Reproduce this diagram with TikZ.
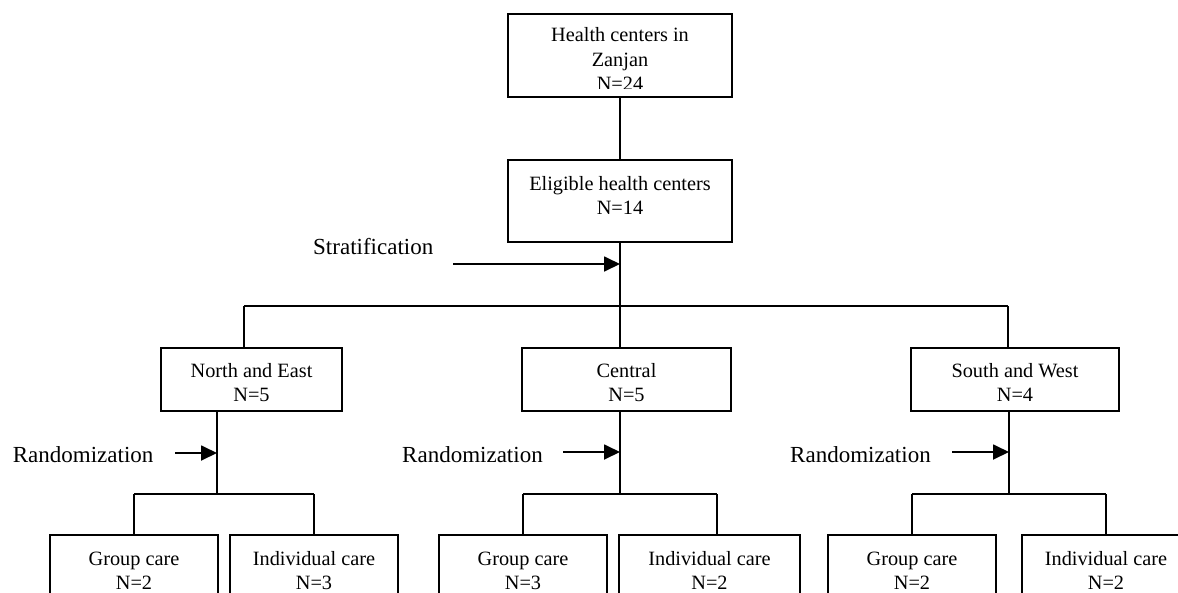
\documentclass[tikz,border=0pt]{standalone}
\usepackage{fontspec}
\setmainfont{Liberation Serif}
\usetikzlibrary{arrows.meta}
\tikzset{
  x=1pt, y=-1pt,
  lw/.style={line width=1.8pt},
  box/.style={draw, lw, inner sep=0pt, align=center, font=\fontsize{20.3}{24}\selectfont},
  boxtext/.style={inner sep=0pt, align=center, font=\fontsize{20.3}{24.5}\selectfont},
  lbl/.style={inner sep=0pt, anchor=base west, font=\fontsize{23}{27}\selectfont},
  conn/.style={lw},
  arr/.style={lw, -{Triangle[length=16pt,width=15pt]}},
  midbox/.style={box, minimum height=63pt, text height=45pt, text depth=2pt},
  botbox/.style={box, minimum height=74pt, text height=40pt, text depth=6pt}
}
\begin{document}
\begin{tikzpicture}
\useasboundingbox (0,0) rectangle (1178,592);

% top box (text overflows and is cut)
\node[box, minimum width=224pt, minimum height=83pt] (hc) at (620,55.5) {};
\begin{scope}
  \clip (510,16) rectangle (729,88.5);
  \node[boxtext, text height=75pt, text depth=4pt] (hct) at ([yshift=0.5pt]hc.center) {Health centers in\\Zanjan\\N=24};
\end{scope}

\node[box, minimum width=224pt, minimum height=82pt, text height=40pt, text depth=14pt] (el) at (620,201) {Eligible health centers\\N=14};

\node[midbox, minimum width=181pt] (ne) at (251.5,379.5) {North and East\\N=5};
\node[midbox, minimum width=209pt] (ce) at (626.5,379.5) {Central\\N=5};
\node[midbox, minimum width=208pt] (sw) at (1015,379.5) {South and West\\N=4};

\node[botbox, minimum width=168pt] (g1) at (134,572) {Group care\\N=2};
\node[botbox, minimum width=168pt] (i1) at (314,572) {Individual care\\N=3};
\node[botbox, minimum width=168pt] (g2) at (523,572) {Group care\\N=3};
\node[botbox, minimum width=181pt] (i2) at (709.5,572) {Individual care\\N=2};
\node[botbox, minimum width=168pt] (g3) at (912,572) {Group care\\N=2};
\node[botbox, minimum width=168pt] (i3) at (1106,572) {Individual care\\N=2};

% labels
\node[lbl] (strat) at (313,254) {Stratification};
\node[lbl] (rand1) at (12.7,462) {Randomization};
\node[lbl] (rand2) at (402,462) {Randomization};
\node[lbl] (rand3) at (790,462) {Randomization};

% trunk and stratification
\coordinate (sl) at (244,306);
\coordinate (sr) at (1008,306);
\draw[conn] (hc.south) -- (el.north);
\draw[conn] (el.south) -- (el.south |- ce.north);
\draw[conn] (sl) -- (sr);
\draw[conn] (sl) -- (sl |- ne.north);
\draw[conn] (sr) -- (sr |- sw.north);
\coordinate (sa) at (453,264);
\draw[arr] (sa) -- (sa -| el.south);

% randomization left
\coordinate (r1) at (217,494);
\coordinate (r1l) at (134,494);
\coordinate (r1r) at (314,494);
\draw[conn] (ne.south -| r1) -- (r1);
\draw[conn] (r1l) -- (r1r);
\draw[conn] (r1l) -- (g1.north);
\draw[conn] (r1r) -- (i1.north);
\coordinate (ra1) at (175,453);
\draw[arr] (ra1) -- (ra1 -| r1);

% randomization centre
\coordinate (r2) at (620,494);
\coordinate (r2l) at (523,494);
\coordinate (r2r) at (717,494);
\draw[conn] (ce.south -| r2) -- (r2);
\draw[conn] (r2l) -- (r2r);
\draw[conn] (r2l) -- (g2.north);
\draw[conn] (r2r) -- (r2r |- i2.north);
\coordinate (ra2) at (563,452);
\draw[arr] (ra2) -- (ra2 -| r2);

% randomization right
\coordinate (r3) at (1009,494);
\coordinate (r3l) at (912,494);
\coordinate (r3r) at (1106,494);
\draw[conn] (sw.south -| r3) -- (r3);
\draw[conn] (r3l) -- (r3r);
\draw[conn] (r3l) -- (g3.north);
\draw[conn] (r3r) -- (i3.north);
\coordinate (ra3) at (952,452);
\draw[arr] (ra3) -- (ra3 -| r3);
\end{tikzpicture}
\end{document}
